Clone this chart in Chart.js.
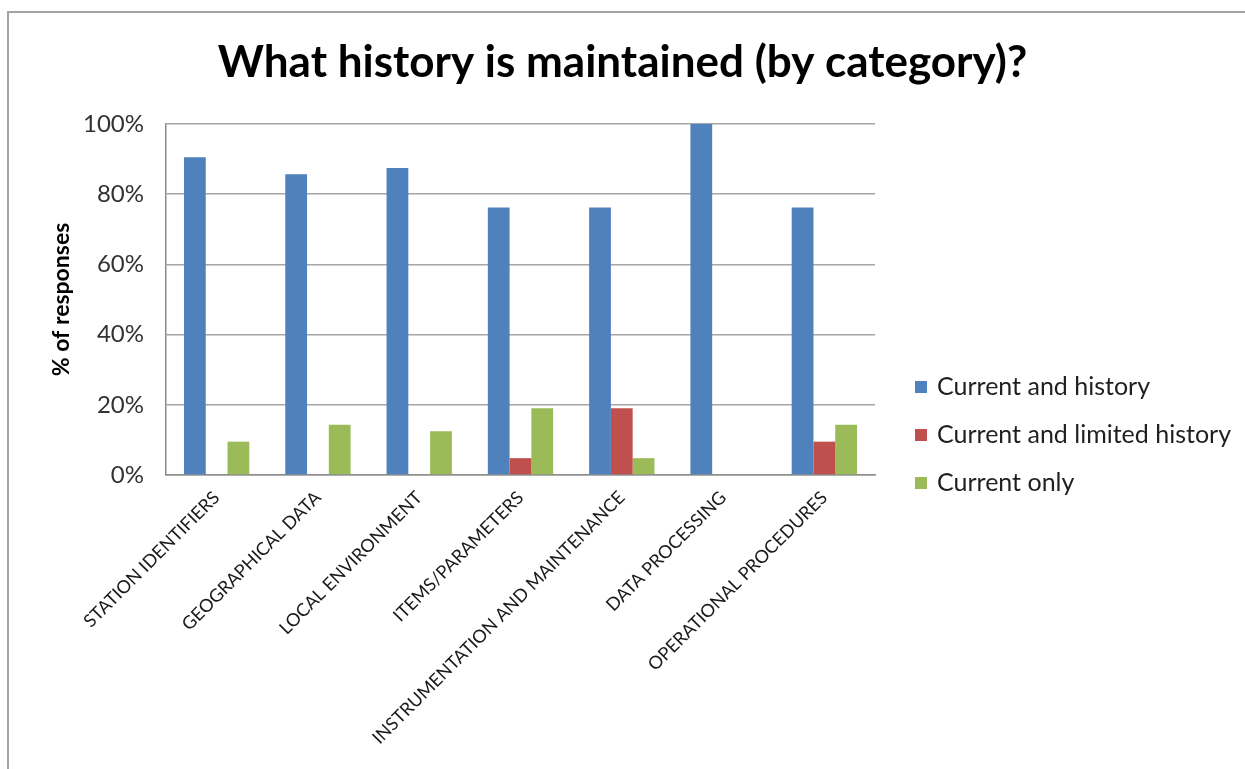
<!DOCTYPE html>
<html>
<head>
<meta charset="utf-8">
<script src="https://cdn.jsdelivr.net/npm/chart.js@4/dist/chart.umd.min.js"></script>
<style>
  html, body { margin: 0; padding: 0; background: #fff; overflow: hidden; }
  #wrap { position: relative; width: 1245px; height: 769px; }
  #frame { position: absolute; left: 7px; top: 11px; width: 1238px; height: 758px;
           border-top: 2px solid #a3a3a3; border-left: 2px solid #a3a3a3; box-sizing: border-box; pointer-events: none; }
  canvas { position: absolute; left: 0; top: 0; }
</style>
</head>
<body>
<div id="wrap">
  <canvas id="c" width="1245" height="769"></canvas>
  <div id="frame"></div>
</div>
<script>
const categories = [
  "STATION IDENTIFIERS",
  "GEOGRAPHICAL DATA",
  "LOCAL ENVIRONMENT",
  "ITEMS/PARAMETERS",
  "INSTRUMENTATION AND MAINTENANCE",
  "DATA PROCESSING",
  "OPERATIONAL PROCEDURES"
];
const seriesNames = ["Current and history", "Current and limited history", "Current only"];
const currentAndHistory = [90.5, 85.7, 87.5, 76.2, 76.2, 100, 76.2];
const currentAndLimited = [0, 0, 0, 4.8, 19.0, 0, 9.5];
const currentOnly = [9.5, 14.3, 12.5, 19.0, 4.8, 0, 14.3];
const yTicks = [0, 20, 40, 60, 80, 100];
const seriesColors = ["#4F81BD", "#C0504D", "#9BBB59"];

const FONT = "Lato, 'Open Sans', sans-serif";

const legendPlugin = {
  id: 'sideLegend',
  afterDraw(chart) {
    const ctx = chart.ctx;
    ctx.save();
    ctx.font = "25px " + FONT;
    ctx.textBaseline = 'middle';
    ctx.textAlign = 'left';
    chart.data.datasets.forEach((ds, i) => {
      const y = 387 + i * 48;
      ctx.fillStyle = ds.backgroundColor;
      ctx.fillRect(915, y - 6, 12, 12);
      ctx.fillStyle = '#1f1f1f';
      ctx.fillText(ds.label, 937, y);
    });
    ctx.restore();
  }
};

new Chart(document.getElementById('c'), {
  type: 'bar',
  data: {
    labels: categories,
    datasets: [
      { label: seriesNames[0], data: currentAndHistory, backgroundColor: seriesColors[0] },
      { label: seriesNames[1], data: currentAndLimited, backgroundColor: seriesColors[1] },
      { label: seriesNames[2], data: currentOnly, backgroundColor: seriesColors[2] }
    ]
  },
  options: {
    responsive: false,
    animation: false,
    layout: { padding: 0 },
    datasets: { bar: { categoryPercentage: 0.645, barPercentage: 1.0 } },
    plugins: {
      legend: { display: false },
      tooltip: { enabled: false },
      title: {
        display: true,
        text: 'What history is maintained (by category)?',
        color: '#000',
        font: { family: FONT, size: 44, weight: 'bold', lineHeight: 1.2 },
        padding: { top: 36, bottom: 35.2 }
      }
    },
    scales: {
      x: {
        grid: { display: false, drawTicks: false },
        border: { display: true, color: '#8c8c8c', width: 1.5 },
        ticks: {
          autoSkip: false, minRotation: 45, maxRotation: 45,
          padding: 12, color: '#1a1a1a',
          font: { family: FONT, size: 18 }
        },
        afterFit(scale) { scale.height = 294; }
      },
      y: {
        min: 0, max: 100,
        afterBuildTicks(scale) { scale.ticks = yTicks.map(v => ({ value: v })); },
        grid: { color: '#a6a6a6', lineWidth: 1.5, drawTicks: false },
        border: { display: true, color: '#8c8c8c', width: 1.5 },
        ticks: {
          padding: 22, color: '#333',
          font: { family: FONT, size: 24 },
          callback: v => v + '%'
        },
        title: {
          display: true, text: '% of responses', color: '#000',
          font: { family: FONT, size: 23, weight: 'bold', lineHeight: 1.2 },
          padding: { top: 48, bottom: 0 }
        },
        afterFit(scale) { scale.width = 166; }
      },
      spacer: {
        type: 'linear', position: 'right', display: true,
        grid: { display: false, drawTicks: false },
        border: { display: false },
        ticks: { display: false },
        afterFit(scale) { scale.width = 370; }
      }
    }
  },
  plugins: [legendPlugin]
});
</script>
</body>
</html>
